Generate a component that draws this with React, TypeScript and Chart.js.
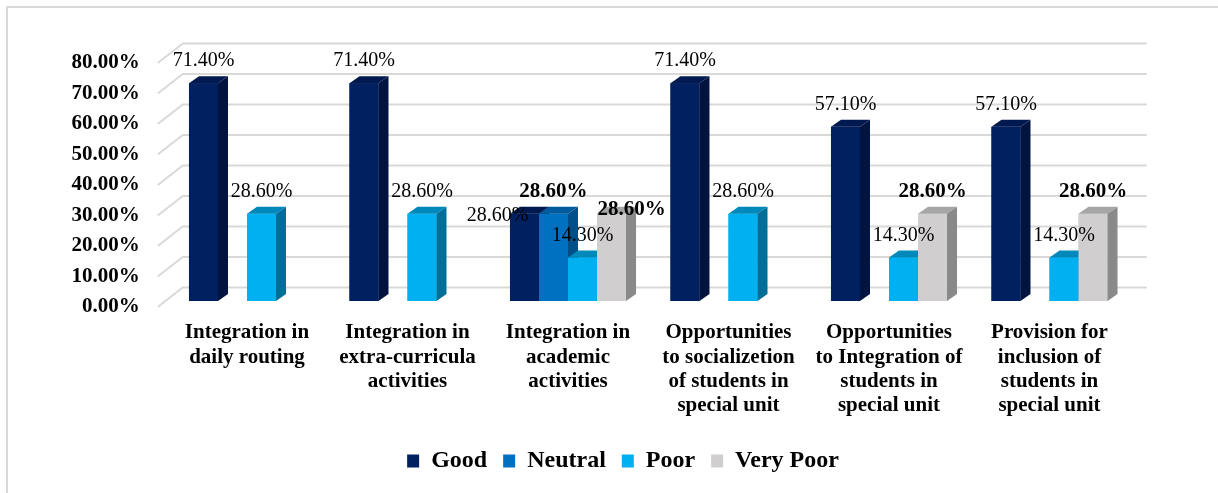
import React, { useEffect, useRef } from "react";
import { Chart, registerables } from "chart.js";

Chart.register(...registerables);

// ---------- data ----------
const categories: string[][] = [
  ["Integration in", "daily routing"],
  ["Integration in", "extra-curricula", "activities"],
  ["Integration in", "academic", "activities"],
  ["Opportunities", "to socializetion", "of students in", "special unit"],
  ["Opportunities", "to Integration of", "students in", "special unit"],
  ["Provision for", "inclusion of", "students in", "special unit"],
];
const seriesNames = ["Good", "Neutral", "Poor", "Very Poor"];
const goodValues = [71.4, 71.4, 28.6, 71.4, 57.1, 57.1];
const neutralValues = [0, 0, 28.6, 0, 0, 0];
const poorValues = [28.6, 28.6, 14.3, 28.6, 14.3, 14.3];
const veryPoorValues = [0, 0, 28.6, 0, 28.6, 28.6];
const yTickValues = [0, 10, 20, 30, 40, 50, 60, 70, 80];

// ---------- styles ----------
const FONT = "'Liberation Serif', 'Times New Roman', serif";
const FRONT = ["#002060", "#0070C0", "#00B0F0", "#D0CECE"];
const SIDE = ["#00143f", "#004f88", "#006f98", "#898989"];
const TOP = ["#001a50", "#005c9e", "#0088ba", "#a6a6a6"];
const BOLD_LABEL = [false, true, false, true];
const DEPTH_DX = 10;
const DEPTH_DY = -7;
// label nudges keyed "dataset-category"
const NUDGE: Record<string, [number, number]> = {
  "0-2": [-27, 24],
  "3-2": [20, 18],
};

const bar3d = {
  id: "bar3d",
  beforeDatasetsDraw(chart: any) {
    const { ctx, chartArea } = chart;
    const ys = chart.scales.y;
    ctx.save();
    ctx.strokeStyle = "#d9d9d9";
    ctx.lineWidth = 2;
    for (const t of ys.ticks) {
      const py = ys.getPixelForValue(t.value);
      ctx.beginPath();
      ctx.moveTo(chartArea.left - 9, py + 6);
      ctx.lineTo(chartArea.left + 16, py - 13.5);
      ctx.lineTo(chartArea.right + 17, py - 13.5);
      ctx.stroke();
    }
    ctx.restore();
  },
  afterDatasetsDraw(chart: any) {
    const { ctx } = chart;
    const nCat = chart.data.labels.length;
    const nDs = chart.data.datasets.length;
    ctx.save();
    for (let c = 0; c < nCat; c++) {
      for (let d = 0; d < nDs; d++) {
        const v = chart.data.datasets[d].data[c] as number;
        if (!v) continue;
        const el = chart.getDatasetMeta(d).data[c];
        const { x, y, base, width } = el.getProps(["x", "y", "base", "width"], true);
        const l = x - width / 2;
        const r = x + width / 2;
        // front
        ctx.fillStyle = FRONT[d];
        ctx.fillRect(l, y, width, base - y);
        // top
        ctx.fillStyle = TOP[d];
        ctx.beginPath();
        ctx.moveTo(l, y);
        ctx.lineTo(r, y);
        ctx.lineTo(r + DEPTH_DX, y + DEPTH_DY);
        ctx.lineTo(l + DEPTH_DX, y + DEPTH_DY);
        ctx.closePath();
        ctx.fill();
        // side
        ctx.fillStyle = SIDE[d];
        ctx.beginPath();
        ctx.moveTo(r, y);
        ctx.lineTo(r + DEPTH_DX, y + DEPTH_DY);
        ctx.lineTo(r + DEPTH_DX, base + DEPTH_DY);
        ctx.lineTo(r, base);
        ctx.closePath();
        ctx.fill();
      }
    }
    // value labels
    ctx.textAlign = "center";
    ctx.textBaseline = "middle";
    ctx.fillStyle = "#000";
    for (let d = 0; d < nDs; d++) {
      const meta = chart.getDatasetMeta(d);
      for (let c = 0; c < nCat; c++) {
        const v = chart.data.datasets[d].data[c] as number;
        if (!v) continue;
        const { x, y } = meta.data[c].getProps(["x", "y"], true);
        const nudge = NUDGE[`${d}-${c}`] || [0, 0];
        ctx.font = BOLD_LABEL[d] ? `bold 21px ${FONT}` : `20px ${FONT}`;
        ctx.fillText(v.toFixed(2) + "%", x + nudge[0], y - 22 + nudge[1]);
      }
    }
    ctx.restore();
  },
};

export default function App() {
  const ref = useRef<HTMLCanvasElement>(null);
  useEffect(() => {
    const seriesValues = [goodValues, neutralValues, poorValues, veryPoorValues];
    const chart = new Chart(ref.current as HTMLCanvasElement, {
      type: "bar",
      data: {
        labels: categories,
        datasets: seriesNames.map((name, i) => ({
          label: name,
          data: seriesValues[i],
          backgroundColor: FRONT[i],
          borderWidth: 0,
          categoryPercentage: 0.723,
          barPercentage: 1,
        })),
      },
      options: {
        responsive: false,
        maintainAspectRatio: false,
        devicePixelRatio: 1,
        animation: false,
        layout: { padding: { left: 60, right: 32, top: 57, bottom: 10 } },
        plugins: {
          tooltip: { enabled: false },
          legend: {
            position: "bottom",
            labels: {
              color: "#000",
              font: { family: FONT, size: 24, weight: "bold" },
              boxWidth: 12,
              boxHeight: 13,
              padding: 16,
            },
          },
        },
        scales: {
          x: {
            grid: { display: false, drawTicks: false },
            border: { display: false },
            ticks: {
              color: "#000",
              font: { family: FONT, size: 21, weight: "bold", lineHeight: 1.15 },
              padding: 20,
              maxRotation: 0,
              autoSkip: false,
            },
            afterFit: (s: any) => {
              s.height = 132;
            },
          },
          y: {
            min: 0,
            max: 80,
            grid: { display: false, drawTicks: false },
            border: { display: false },
            afterBuildTicks: (s: any) => {
              s.ticks = yTickValues.map((v) => ({ value: v }));
            },
            ticks: {
              color: "#000",
              font: { family: FONT, size: 21, weight: "bold" },
              padding: 27,
              labelOffset: 6,
              callback: (v: any) => Number(v).toFixed(2) + "%",
            },
            afterFit: (s: any) => {
              s.width = 106.75;
            },
          },
          yRight: {
            type: "linear",
            position: "right",
            min: 0,
            max: 80,
            grid: { display: false, drawTicks: false },
            border: { display: false },
            ticks: { display: false },
            afterFit: (s: any) => {
              s.width = 56.25;
            },
          },
        },
      },
      plugins: [bar3d],
    });
    return () => chart.destroy();
  }, []);

  return (
    <div
      style={{
        position: "fixed",
        left: 0,
        top: 0,
        width: 1218,
        height: 493,
        overflow: "hidden",
        background: "#fff",
      }}
    >
      <div
        style={{
          position: "absolute",
          left: 6,
          top: 6,
          width: 1300,
          height: 600,
          border: "2px solid #d9d9d9",
        }}
      />
      <canvas
        ref={ref}
        width={1218}
        height={493}
        style={{ position: "absolute", left: 0, top: 0, width: 1218, height: 493 }}
      />
    </div>
  );
}
